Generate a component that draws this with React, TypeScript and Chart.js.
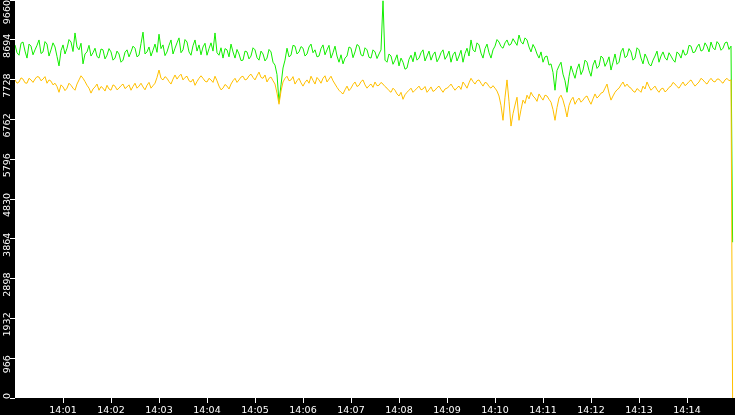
import { useEffect, useRef } from 'react';
import { Chart, registerables, Plugin } from 'chart.js';

Chart.register(...registerables);

// one sample every 2.5 s from 14:00:00
const sampleSeconds = 2.5;

const greenValues = [
  8570, 8380, 8320, 8610, 8640, 8420, 8250, 8590, 8540, 8330, 8450, 8560, 8690, 8360, 8400, 8650, 8590, 8300, 8450, 8620,
  8520, 8290, 8060, 8430, 8570, 8350, 8490, 8700, 8640, 8410, 8860, 8520, 8450, 8610, 8110, 8350, 8400, 8560, 8300, 8380,
  8490, 8290, 8250, 8470, 8450, 8230, 8320, 8480, 8400, 8200, 8250, 8420, 8350, 8150, 8200, 8390, 8450, 8280, 8400, 8540,
  8490, 8280, 8320, 8600, 8880, 8350, 8400, 8520, 8300, 8440, 8590, 8390, 8830, 8480, 8570, 8310, 8400, 8560, 8690, 8350,
  8490, 8620, 8740, 8380, 8450, 8700, 8640, 8400, 8320, 8550, 8690, 8420, 8570, 8330, 8520, 8610, 8320, 8480, 8620, 8420,
  8860, 8380, 8320, 8500, 8250, 8480, 8450, 8280, 8590, 8400, 8250, 8460, 8350, 8190, 8200, 8420, 8400, 8230, 8300, 8500,
  8450, 8260, 8200, 8420, 8350, 8180, 8250, 8460, 8400, 8150, 8080, 7850, 7180, 7600, 8010, 8200, 8490, 8280, 8320, 8560,
  8540, 8350, 8400, 8530, 8490, 8300, 8350, 8520, 8590, 8380, 8450, 8280, 8300, 8480, 8570, 8330, 8450, 8560, 8250, 8380,
  8540, 8300, 8150, 8330, 8110, 8250, 8300, 8520, 8490, 8260, 8400, 8580, 8540, 8330, 8300, 8500, 8450, 8270, 8250, 8450,
  8400, 8240, 8350, 8450, 9640, 8200, 8150, 8350, 8300, 8100, 8200, 8330, 8060, 8250, 8150, 7980, 8010, 8220, 8320, 8160,
  8400, 8200, 8250, 8380, 8450, 8180, 8300, 8420, 8200, 8330, 8400, 8160, 8250, 8380, 8450, 8220, 8300, 8420, 8150, 8330,
  8400, 8180, 8300, 8440, 8150, 8360, 8490, 8300, 8690, 8450, 8400, 8620, 8570, 8370, 8250, 8480, 8590, 8380, 8250, 8450,
  8540, 8700, 8640, 8530, 8490, 8620, 8690, 8560, 8590, 8720, 8640, 8560, 8810, 8650, 8590, 8740, 8690, 8520, 8400, 8580,
  8490, 8350, 8250, 8400, 8150, 8280, 8300, 8080, 8110, 7900, 7470, 7950, 8060, 8150, 7860, 7700, 7420, 7800, 8060, 7900,
  7760, 7980, 8110, 7850, 7960, 8200, 8150, 7950, 7810, 8080, 8200, 8000, 8060, 8300, 8250, 8050, 8150, 8280, 7960, 8150,
  8350, 8100, 8150, 8400, 8490, 8260, 8300, 8480, 8400, 8200, 8250, 8500, 8450, 8250, 8110, 8350, 8250, 8100, 8060, 8200,
  8300, 8420, 8150, 8300, 8400, 8260, 8200, 8380, 8300, 8210, 8150, 8400, 8350, 8250, 8450, 8320, 8350, 8560, 8540, 8380,
  8400, 8520, 8590, 8420, 8450, 8620, 8540, 8400, 8640, 8500, 8450, 8650, 8590, 8440, 8490, 8620, 8640, 8460, 8540,
];

const yellowValues = [
  7720, 7640, 7670, 7770, 7740, 7650, 7640, 7760, 7720, 7660, 7740, 7800, 7790, 7700, 7740, 7800, 7640, 7720, 7690, 7600,
  7640, 7560, 7420, 7600, 7550, 7460, 7520, 7640, 7590, 7520, 7470, 7620, 7720, 7820, 7760, 7680, 7590, 7520, 7400, 7500,
  7550, 7620, 7470, 7560, 7520, 7450, 7590, 7500, 7470, 7600, 7570, 7480, 7520, 7580, 7620, 7510, 7550, 7600, 7470, 7560,
  7640, 7520, 7570, 7640, 7550, 7480, 7590, 7660, 7520, 7580, 7640, 7780, 7960, 7760, 7720, 7800, 7760, 7680, 7620, 7740,
  7840, 7740, 7810, 7860, 7720, 7780, 7810, 7700, 7670, 7740, 7590, 7680, 7760, 7820, 7760, 7690, 7670, 7760, 7720, 7660,
  7810, 7700, 7570, 7480, 7520, 7610, 7570, 7500, 7620, 7700, 7760, 7660, 7720, 7790, 7810, 7720, 7740, 7820, 7860, 7780,
  7720, 7820, 7910, 7780, 7760, 7840, 7670, 7760, 7790, 7700, 7620, 7400, 7130, 7450, 7670, 7760, 7810, 7700, 7720, 7800,
  7620, 7700, 7760, 7650, 7570, 7660, 7720, 7640, 7810, 7710, 7620, 7780, 7720, 7640, 7760, 7820, 7670, 7740, 7810, 7700,
  7620, 7540, 7470, 7420, 7380, 7480, 7570, 7460, 7520, 7610, 7670, 7560, 7590, 7680, 7720, 7600, 7520, 7580, 7620, 7540,
  7670, 7580, 7590, 7660, 7620, 7560, 7520, 7460, 7420, 7520, 7470, 7380, 7330, 7420, 7250, 7360, 7420, 7470, 7520, 7420,
  7470, 7520, 7570, 7480, 7500, 7560, 7420, 7480, 7550, 7440, 7470, 7530, 7570, 7490, 7420, 7500, 7520, 7560, 7620, 7540,
  7470, 7530, 7570, 7490, 7670, 7600, 7520, 7650, 7760, 7680, 7620, 7700, 7720, 7640, 7570, 7660, 7640, 7560, 7520, 7580,
  7520, 7450, 7330, 7100, 6740, 7300, 7720, 7200, 6600, 6900, 7110, 7300, 6740, 7000, 7230, 7150, 7350, 7260, 7420, 7330,
  7280, 7200, 7380, 7300, 7230, 7350, 7330, 7250, 7180, 7000, 6740, 7050, 7280, 7350, 7230, 7050, 6820, 7100, 7230, 7300,
  7130, 7220, 7280, 7180, 7230, 7300, 7330, 7220, 7130, 7260, 7380, 7280, 7330, 7400, 7420, 7520, 7620, 7400, 7230, 7330,
  7420, 7480, 7520, 7600, 7670, 7560, 7620, 7550, 7520, 7450, 7420, 7510, 7470, 7420, 7570, 7500, 7670, 7560, 7470, 7520,
  7570, 7480, 7420, 7500, 7520, 7430, 7470, 7540, 7570, 7660, 7620, 7560, 7520, 7600, 7670, 7580, 7620, 7680, 7720, 7640,
  7570, 7620, 7670, 7760, 7720, 7660, 7620, 7700, 7760, 7690, 7670, 7740, 7740, 7680, 7640, 7720, 7760, 7700, 7720,
];

// both traces fall off at the right edge
const endSecond = 897;
const greenEnd = 3780;
const yellowEnd = 0;

const xTickSeconds = [60, 120, 180, 240, 300, 360, 420, 480, 540, 600, 660, 720, 780, 840];
const xTickLabels = ['14:01', '14:02', '14:03', '14:04', '14:05', '14:06', '14:07', '14:08', '14:09', '14:10', '14:11', '14:12', '14:13', '14:14'];
const yTickValues = [0, 966, 1932, 2898, 3864, 4830, 5796, 6762, 7728, 8694, 9660];

const toPoints = (values: number[], end: number) =>
  values.map((v, i) => ({ x: i * sampleSeconds, y: v })).concat([{ x: endSecond, y: end }]);

const backgroundPlugin: Plugin<'line'> = {
  id: 'background',
  beforeDraw(chart) {
    const { ctx, chartArea, width, height } = chart;
    ctx.save();
    ctx.fillStyle = '#000000';
    ctx.fillRect(0, 0, width, height);
    ctx.fillStyle = '#ffffff';
    ctx.fillRect(chartArea.left, chartArea.top, chartArea.right - chartArea.left, chartArea.bottom - chartArea.top);
    ctx.restore();
  },
};

// rotated y labels, kept inside the plot height like the original
const yLabelPlugin: Plugin<'line'> = {
  id: 'yLabels',
  afterDraw(chart) {
    const { ctx, chartArea } = chart;
    const y = chart.scales.y;
    ctx.save();
    ctx.fillStyle = '#ffffff';
    ctx.font = '9.5px "DejaVu Sans"';
    ctx.textAlign = 'center';
    ctx.textBaseline = 'alphabetic';
    yTickValues.forEach((value) => {
      const label = String(value);
      const half = ctx.measureText(label).width / 2;
      const py = y.getPixelForValue(value) + 6;
      const cy = Math.min(Math.max(py, chartArea.top + half), chartArea.bottom + 1 - half);
      ctx.save();
      ctx.translate(9.5, cy);
      ctx.rotate(-Math.PI / 2);
      ctx.fillText(label, 0, 0);
      ctx.restore();
    });
    ctx.restore();
  },
};

export default function App() {
  const chartRef = useRef<HTMLCanvasElement>(null);
  const chartInstance = useRef<Chart | null>(null);

  useEffect(() => {
    document.body.style.margin = '0';
    if (!chartRef.current) return;
    if (chartInstance.current) chartInstance.current.destroy();

    const ctx = chartRef.current.getContext('2d');
    if (!ctx) return;

    chartInstance.current = new Chart(ctx, {
      type: 'line',
      data: {
        datasets: [
          {
            label: 'yellow',
            data: toPoints(yellowValues, yellowEnd),
            borderColor: '#ffc000',
            borderWidth: 1,
            pointRadius: 0,
            tension: 0,
            order: 0,
          },
          {
            label: 'green',
            data: toPoints(greenValues, greenEnd),
            borderColor: '#12ee00',
            borderWidth: 1,
            pointRadius: 0,
            tension: 0,
            order: 1,
          },
        ],
      },
      options: {
        animation: false,
        responsive: false,
        devicePixelRatio: 1,
        layout: { padding: 0 },
        plugins: {
          legend: { display: false },
          tooltip: { enabled: false },
        },
        scales: {
          x: {
            type: 'linear',
            position: 'bottom',
            min: 0,
            max: 900,
            afterBuildTicks: (axis) => {
              axis.ticks = xTickSeconds.map((value) => ({ value }));
            },
            afterFit: (axis) => {
              axis.height = 17;
            },
            grid: { drawOnChartArea: false, tickLength: 5, color: '#ffffff' },
            border: { display: false },
            ticks: {
              color: '#ffffff',
              font: { family: 'DejaVu Sans', size: 9.5 },
              padding: 2,
              autoSkip: false,
              maxRotation: 0,
              minRotation: 0,
              callback: (_value, index) => xTickLabels[index],
            },
          },
          y: {
            type: 'linear',
            position: 'left',
            min: 0,
            max: 9660,
            afterBuildTicks: (axis) => {
              axis.ticks = yTickValues.map((value) => ({ value }));
            },
            afterFit: (axis) => {
              axis.width = 15;
            },
            grid: { drawOnChartArea: false, tickLength: 5, color: '#ffffff' },
            border: { display: false },
            ticks: { display: false },
          },
        },
      },
      plugins: [backgroundPlugin, yLabelPlugin],
    });

    return () => {
      if (chartInstance.current) {
        chartInstance.current.destroy();
        chartInstance.current = null;
      }
    };
  }, []);

  return (
    <div style={{ width: 735, height: 415, background: '#000000' }}>
      <canvas ref={chartRef} width={735} height={415} style={{ display: 'block' }}></canvas>
    </div>
  );
}
